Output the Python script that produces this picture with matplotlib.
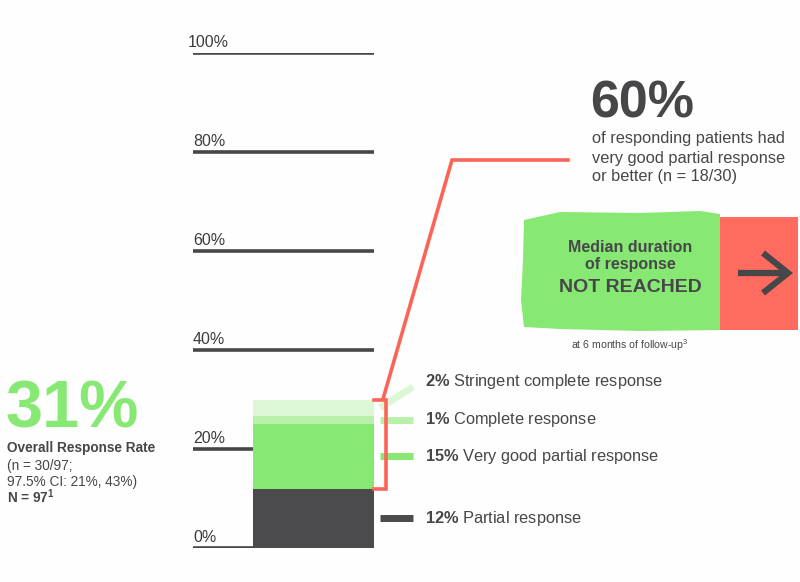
import matplotlib.pyplot as plt
from matplotlib.patches import Rectangle, Polygon

plt.rcParams['font.family'] = ['Liberation Sans', 'DejaVu Sans']
plt.rcParams['mathtext.fontset'] = 'custom'
plt.rcParams['mathtext.rm'] = 'Liberation Sans'
plt.rcParams['mathtext.bf'] = 'Liberation Sans:bold'

# data
segment_names = ['Partial response', 'Very good partial response',
                 'Complete response', 'Stringent complete response']
segment_labels = ['12%', '15%', '1%', '2%']
segment_heights = [12, 13.1, 1.6, 3.3]  # as drawn in the picture
segment_colors = ['#4b4b4d', '#88e874', '#b9f1ab', '#dcf7d4']
grid_ticks = [0, 20, 40, 60, 80, 100]
grid_labels = ['0%', '20%', '40%', '60%', '80%', '100%']

DARK = '#474749'
RED = '#fb6558'

W, H = 800, 582
fig = plt.figure(figsize=(W / 100, H / 100), dpi=100)
fig.patch.set_facecolor('#fefefe')

# bar axes: x in pixels, y in percent (0% at y=548px, 100% at y=53px)
ax = fig.add_axes([0, (H - 548) / H, 1, 495 / H])
ax.set_xlim(0, W)
ax.set_ylim(0, 100)
ax.axis('off')

bar_l, bar_r = 253, 374

# gridlines + labels
for t, lab in zip(grid_ticks, grid_labels):
    ax.plot([193, bar_r], [t, t], color=DARK, lw=2.6, solid_capstyle='butt', zorder=1)
    ax.text(188 if lab == '100%' else 193, t + 0.6, lab, fontsize=11.5,
            color='#3c3c3c', ha='left', va='bottom')

# stacked bar
bottoms = []
b = 0
for h, c in zip(segment_heights, segment_colors):
    ax.bar((bar_l + bar_r) / 2, h, width=bar_r - bar_l, bottom=b, color=c, zorder=2)
    bottoms.append(b)
    b += h
top = b

# legend ticks and labels at segment midpoints
mids = [bt + h / 2 for bt, h in zip(bottoms, segment_heights)]
for i, (m, c, lab, name) in enumerate(zip(mids, segment_colors, segment_labels, segment_names)):
    if i == 3:
        ax.plot([380, 413], [m, m + 4.2], color=c, lw=5, solid_capstyle='butt', clip_on=False)
        ty = m + 5.2
    else:
        ax.plot([380, 413], [m, m], color=c, lw=5, solid_capstyle='butt', clip_on=False)
        ty = m
    txt = r'$\mathbf{' + lab.replace('%', r'\%') + '}$ ' + name
    ax.text(425, ty, txt, fontsize=11.8, color=DARK, va='center', ha='left')

# red bracket around VGPR-or-better
vg_bottom = bottoms[1]
ax.plot([bar_r, 386, 386, bar_r], [top, top, vg_bottom, vg_bottom], color=RED, lw=2.6,
        solid_joinstyle='miter', clip_on=False, zorder=3)

# overlay axes in pixel coordinates
ov = fig.add_axes([0, 0, 1, 1])
ov.set_xlim(0, W)
ov.set_ylim(H, 0)
ov.axis('off')

ov.plot([383, 452, 568], [399, 160, 160], color=RED, lw=2.6, solid_joinstyle='miter')

# left block
ov.text(6, 428, '31%', fontsize=48, fontweight='bold', color='#88e874', ha='left', va='baseline')
ov.text(7, 448, 'Overall Response Rate', fontsize=9.8, fontweight='bold', color=DARK, va='center')
ov.text(7, 466, '(n = 30/97;', fontsize=9.8, color=DARK, va='center')
ov.text(7, 482, '97.5% CI: 21%, 43%)', fontsize=9.8, color=DARK, va='center')
ov.text(7, 497, r'N = 97$^{\mathbf{1}}$', fontsize=9.8, fontweight='bold', color=DARK,
        va='center')

# 60% block
ov.text(590, 117, '60%', fontsize=37.5, fontweight='bold', color=DARK, ha='left', va='baseline')
ov.text(592, 138, 'of responding patients had', fontsize=11.8, color=DARK, va='center')
ov.text(592, 158, 'very good partial response', fontsize=11.8, color=DARK, va='center')
ov.text(592, 177, 'or better (n = 18/30)', fontsize=11.8, color=DARK, va='center')

# brush box
brush = Polygon([(524, 220), (560, 212), (640, 213), (700, 211), (720, 214), (720, 330),
                 (640, 331), (560, 329), (524, 327), (521, 300), (523, 260)],
                closed=True, facecolor='#88e874', edgecolor='none')
ov.add_patch(brush)
ov.add_patch(Rectangle((720, 217), 78, 113, facecolor='#ff6b5e', edgecolor='none'))
ov.text(630, 248, 'Median duration', fontsize=11.5, fontweight='bold', color=DARK,
        ha='center', va='center')
ov.text(630, 265, 'of response', fontsize=11.5, fontweight='bold', color=DARK,
        ha='center', va='center')
ov.text(630, 287, 'NOT REACHED', fontsize=14, fontweight='bold', color=DARK,
        ha='center', va='center')
ov.text(630, 345, 'at 6 months of follow-up$^3$', fontsize=7.6, color=DARK,
        ha='center', va='center')

# arrow
ov.plot([738, 788], [273, 273], color=DARK, lw=4.5, solid_capstyle='butt')
ov.plot([763, 788, 763], [253, 273, 293], color=DARK, lw=4.5, solid_joinstyle='miter',
        solid_capstyle='butt')

fig.savefig('out.png', dpi=100, facecolor=fig.get_facecolor())
